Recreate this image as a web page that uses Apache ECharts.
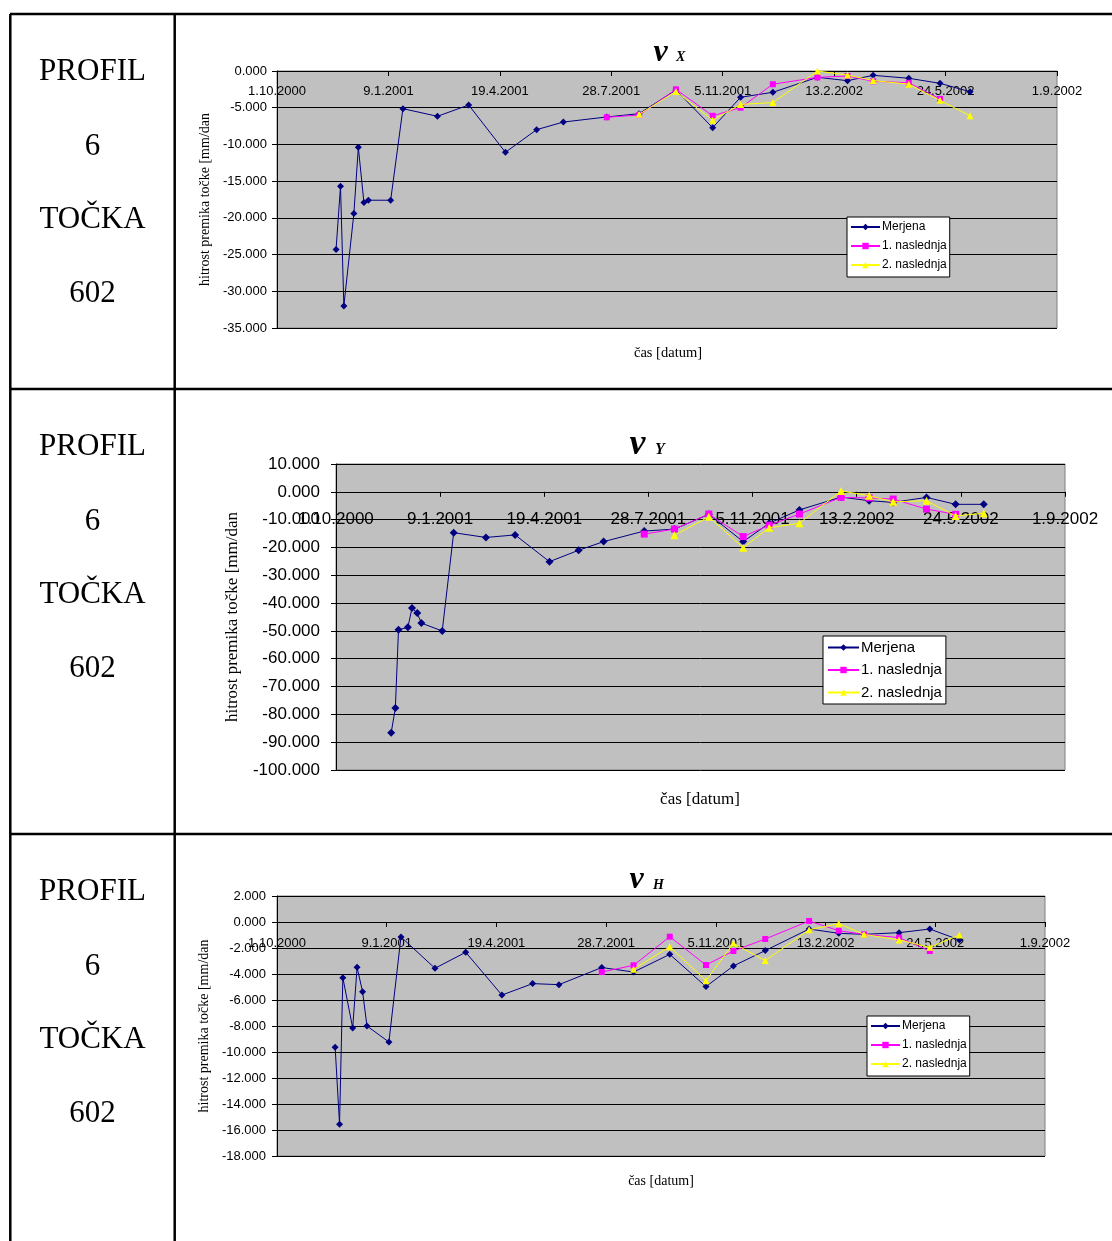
<!DOCTYPE html>
<html><head><meta charset="utf-8">
<script src="https://cdn.jsdelivr.net/npm/echarts@6/dist/echarts.min.js"></script>
<style>html,body{margin:0;padding:0;background:#fff}#c{width:1112px;height:1241px}</style>
</head><body><div id="c"></div>
<script>
// ---------- DATA ----------
const axisStart = '2000-10-01';
const tickLabels = ['1.10.2000','9.1.2001','19.4.2001','28.7.2001','5.11.2001','13.2.2002','24.5.2002','1.9.2002'];
const dates = ['2000-11-23','2000-11-27','2000-11-30','2000-12-09','2000-12-13','2000-12-18','2000-12-22',
  '2001-01-11','2001-01-22','2001-02-22','2001-03-22','2001-04-24','2001-05-22','2001-06-15','2001-07-24',
  '2001-08-22','2001-09-24','2001-10-27','2001-11-21','2001-12-20','2002-01-29','2002-02-25','2002-03-20',
  '2002-04-21','2002-05-19','2002-06-15'];
const seriesNames = ['Merjena','1. naslednja','2. naslednja'];
const leftLabels = ['PROFIL','6','TOČKA','602'];
const chartTitles = [['v','X'],['v','Y'],['v','H']];
const yAxisName = 'hitrost premika točke [mm/dan';
const xAxisName = 'čas [datum]';

const _ = null;
// v X
const merjenaX = [-24.3,-15.7,-32.0,-19.4,-10.4,-17.9,-17.6,-17.6,-5.13,-6.17,-4.63,-11.07,-7.99,-6.95,-6.26,-5.81,-2.59,-7.72,-3.58,-2.9,-0.86,-1.32,-0.59,-0.99,-1.68,-2.82];
const naslednja1X = [_,_,_,_,_,_,_,_,_,_,_,_,_,_,-6.3,-6.0,-2.5,-6.1,-5.0,-1.8,-0.87,-0.68,-1.4,-1.6,-3.8,_];
const naslednja2X = [_,_,_,_,_,_,_,_,_,_,_,_,_,_,_,-5.9,-2.8,-6.7,-4.55,-4.3,0.0,-0.55,-1.3,-1.8,-4.0,-6.1];
// v Y
const merjenaY = [-86.6,-77.7,-49.6,-48.7,-41.8,-43.6,-47.2,-50.0,-14.7,-16.4,-15.5,-25.1,-21.0,-17.9,-14.1,-13.4,-8.1,-17.9,-11.3,-6.5,-1.9,-3.2,-3.8,-2.0,-4.5,-4.5];
const naslednja1Y = [_,_,_,_,_,_,_,_,_,_,_,_,_,_,-15.2,-13.4,-8.0,-16.1,-12.0,-8.0,-2.0,-2.2,-2.6,-6.2,-8.1,_];
const naslednja2Y = [_,_,_,_,_,_,_,_,_,_,_,_,_,_,_,-15.6,-9.0,-20.1,-12.9,-11.3,0.3,-1.4,-3.6,-3.2,-8.7,-7.7];
// v H
const merjenaH = [-9.64,-15.56,-4.28,-8.15,-3.49,-5.36,-8.0,-9.23,-1.15,-3.56,-2.33,-5.62,-4.74,-4.82,-3.5,-3.85,-2.49,-4.97,-3.38,-2.2,-0.54,-0.87,-0.95,-0.82,-0.54,-1.38];
const naslednja1H = [_,_,_,_,_,_,_,_,_,_,_,_,_,_,-3.85,-3.33,-1.13,-3.31,-2.23,-1.31,0.08,-0.67,-0.95,-1.2,-2.23,_];
const naslednja2H = [_,_,_,_,_,_,_,_,_,_,_,_,_,_,_,-3.64,-1.9,-4.51,-1.64,-2.97,-0.6,-0.13,-0.95,-1.38,-1.95,-1.0];

// y-axis ranges [min, max, interval]
const yRanges = [[-35,0,5],[-100,10,10],[-18,2,2]];

// ---------- BUILD ----------
const DAY = 86400000;
const t0 = Date.parse(axisStart + 'T00:00:00Z');
const offsets = dates.map(d => (Date.parse(d + 'T00:00:00Z') - t0) / DAY);
function pts(vals){ return offsets.map((o,i)=> vals[i]==null ? null : [o, vals[i]]).filter(p=>p); }

const SANS = '"Liberation Sans", Arial, sans-serif';
const SERIF = '"Liberation Serif", "Times New Roman", serif';

const charts = [
  {grid:{left:277,top:71,width:780,height:257}, data:[merjenaX,naslednja1X,naslednja2X],
   fs:13, xMargin:14, yMargin:10, nameFs:14, nameGap:65, sym:[7,6,7],
   legend:{left:847,top:217,fs:12,iw:29,gap:7,pad:[4,3,6,3]},
   title:{x:660.5,y:52.5,fs:32,sx:676,sy:57,sfs:14}, xname:{x:668,y:353,fs:14.5}, rowTop:14},
  {grid:{left:336,top:464,width:729,height:306}, data:[merjenaY,naslednja1Y,naslednja2Y],
   fs:17, xMargin:19, yMargin:16, nameFs:17, nameGap:95, sym:[8,7,8],
   legend:{left:823,top:636,fs:15,iw:31,gap:7.5,pad:[4,4,4,4]},
   title:{x:637.5,y:444.5,fs:36,sx:655,sy:450,sfs:16}, xname:{x:700,y:800,fs:17}, rowTop:389},
  {grid:{left:277,top:896,width:768,height:260}, data:[merjenaH,naslednja1H,naslednja2H],
   fs:13, xMargin:15, yMargin:11, nameFs:14, nameGap:65, sym:[7,6,7],
   legend:{left:867,top:1016,fs:12,iw:29,gap:7,pad:[4,3,6,3]},
   title:{x:636.5,y:880,fs:32,sx:653,sy:885,sfs:14}, xname:{x:661,y:1181,fs:14}, rowTop:834}
];

const colors = ['#000080','#FF00FF','#FFFF00'];
const symbols = ['diamond','rect','triangle'];

const option = {
  animation:false,
  textStyle:{fontFamily:SANS},
  grid:[], xAxis:[], yAxis:[], series:[], legend:[], graphic:[]
};

charts.forEach((c,i)=>{
  const [ymin,ymax,yint] = yRanges[i];
  // x axis crosses the value axis at zero: shift a top axis down into the plot by the zero position
  const zeroShift = c.grid.height * ymax / (ymax - ymin);
  option.grid.push(Object.assign({show:true, backgroundColor:'#C0C0C0', borderColor:'#808080', borderWidth:1, containLabel:false}, c.grid));
  option.xAxis.push({
    gridIndex:i, type:'value', min:0, max:700, interval:100, position:'top', offset:-zeroShift,
    axisLine:{show:true, onZero:false, lineStyle:{color:'#000', width:1}},
    axisTick:{show:true, inside:true, length:5, lineStyle:{color:'#000'}},
    axisLabel:{show:true, inside:true, margin:c.xMargin, fontSize:c.fs, color:'#000', fontFamily:SANS,
      formatter:v=>tickLabels[Math.round(v/100)]},
    splitLine:{show:false}
  });
  option.yAxis.push({
    gridIndex:i, type:'value', min:ymin, max:ymax, interval:yint,
    name:yAxisName, nameLocation:'middle', nameGap:c.nameGap, nameRotate:90,
    nameTextStyle:{fontFamily:SERIF, fontSize:c.nameFs, color:'#000'},
    axisLine:{show:true, onZero:false, lineStyle:{color:'#000', width:1}},
    axisTick:{show:true, length:5, lineStyle:{color:'#000'}},
    axisLabel:{margin:c.yMargin, fontSize:c.fs, color:'#000', fontFamily:SANS, formatter:v=>v.toFixed(3)},
    splitLine:{show:true, lineStyle:{color:'#000', width:1}}
  });
  c.data.forEach((vals,k)=>{
    option.series.push({
      type:'line', name:seriesNames[k], xAxisIndex:i, yAxisIndex:i,
      data:pts(vals), symbol:symbols[k], symbolSize:c.sym[k], showAllSymbol:true,
      lineStyle:{color:colors[k], width:1}, itemStyle:{color:colors[k]},
      emphasis:{disabled:true}, z:2+k
    });
  });
  const L = c.legend;
  option.legend.push({
    orient:'vertical', left:L.left, top:L.top, itemWidth:L.iw, itemHeight:8, itemGap:L.gap,
    padding:L.pad, backgroundColor:'#fff', borderColor:'#000', borderWidth:1, borderRadius:0,
    textStyle:{fontSize:L.fs, color:'#000', fontFamily:SANS, padding:[0,0,0,-3]},
    data:seriesNames, selectedMode:false
  });
  option.graphic.push({type:'text', x:c.title.x, y:c.title.y, z:10,
    style:{text:chartTitles[i][0], font:'italic bold '+c.title.fs+'px '+SERIF, fill:'#000', align:'center', verticalAlign:'middle'}});
  option.graphic.push({type:'text', x:c.title.sx, y:c.title.sy, z:10,
    style:{text:chartTitles[i][1], font:'italic bold '+c.title.sfs+'px '+SERIF, fill:'#000', align:'left', verticalAlign:'middle'}});
  option.graphic.push({type:'text', x:c.xname.x, y:c.xname.y, z:10,
    style:{text:xAxisName, font:c.xname.fs+'px '+SERIF, fill:'#000', align:'center', verticalAlign:'middle'}});
  const ys = [57.5,132.5,206,279.5];
  leftLabels.forEach((t,j)=>{
    option.graphic.push({type:'text', x:92.5, y:c.rowTop+ys[j], z:10,
      style:{text:t, font:'31px '+SERIF, fill:'#000', align:'center', verticalAlign:'middle'}});
  });
});

// table lines
const lw = 2.5;
[[10,14,1112,14],[10.3,14,10.3,1241],[174.7,14,174.7,1241],[10,389,1112,389],[10,834,1112,834]].forEach(l=>{
  option.graphic.push({type:'line', z:20, shape:{x1:l[0],y1:l[1],x2:l[2],y2:l[3]}, style:{stroke:'#000', lineWidth:lw}});
});

const chart = echarts.init(document.getElementById('c'), null, {renderer:'canvas'});
chart.setOption(option);
</script>
</body></html>
